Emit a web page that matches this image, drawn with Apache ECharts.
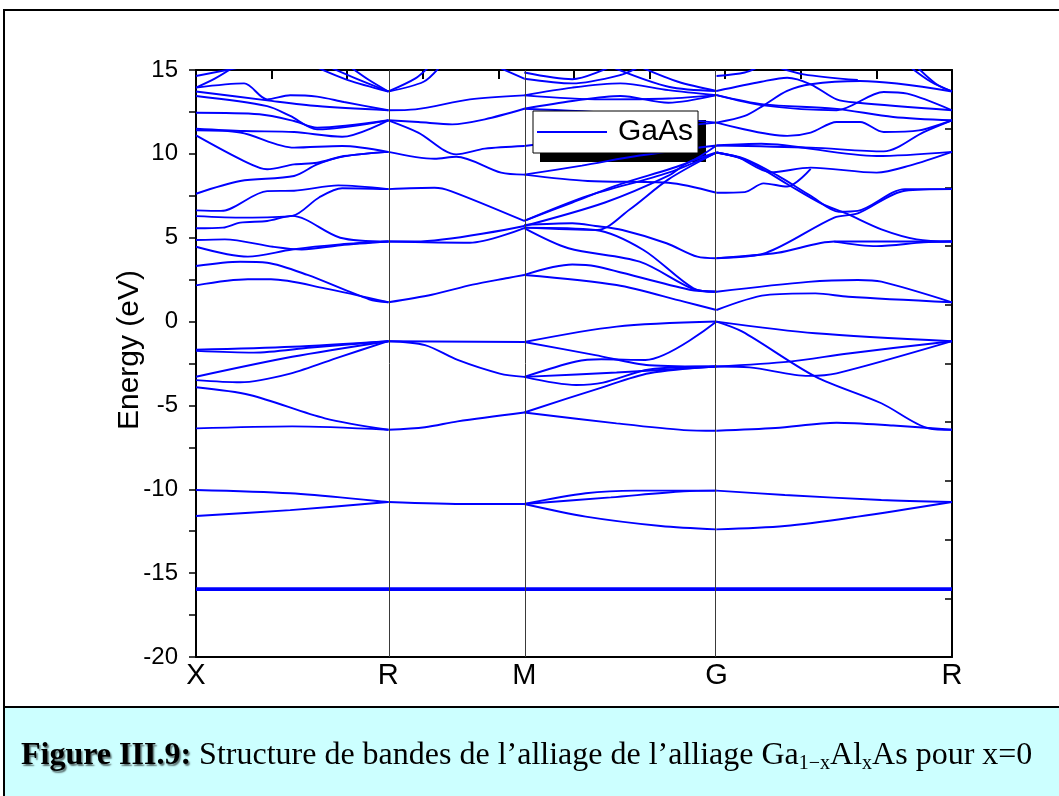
<!DOCTYPE html>
<html><head><meta charset="utf-8">
<script src="https://cdn.jsdelivr.net/npm/echarts@6/dist/echarts.min.js"></script>
<style>html,body{margin:0;padding:0;background:#fff}#c{width:1059px;height:796px}</style>
</head><body><div id="c"></div>
<script>
// high-symmetry points along the k-path (units of 2*pi/a)
const kPoints = [0, 0.7071, 1.2071, 1.9142, 2.7802];
const kLabels = ['X', 'R', 'M', 'G', 'R'];
const yRightTicks = [-16.5, -13, -9.5, -6, -2.5, 1, 4.5, 8, 11.5];
const coreLevel = -15.95;

// bands per path segment: [fraction along segment, energy eV]
const bandsXR = [
  [[0,14.64],[0.25,15.2]],
  [[0,13.95],[0.1,14.5],[0.2,15.2]],
  [[0,13.95],[0.25,14.2],[0.37,13.25],[0.49,13.49],[0.63,13.41],[0.77,13.09],[1,12.6]],
  [[0,13.72],[0.37,13.19],[0.63,12.85],[1,12.6]],
  [[0,13.45],[0.37,12.85],[0.49,12.26],[0.63,11.46],[1,12.0]],
  [[0,12.45],[0.33,12.36],[0.51,11.96],[0.63,11.56],[1,12.0]],
  [[0,11.5],[0.25,11.36],[0.51,11.3],[0.76,11.02],[1,12.0]],
  [[0,11.4],[0.23,11.27],[0.51,10.37],[0.76,10.47],[1,10.12]],
  [[0,11.1],[0.25,9.57],[0.37,9.08],[0.51,9.37],[0.63,9.47],[0.77,9.87],[1,10.12]],
  [[0,7.62],[0.23,8.38],[0.51,8.68],[0.63,9.37],[0.77,9.85],[1,10.12]],
  [[0,6.63],[0.13,6.6],[0.37,7.78],[0.51,7.8],[0.74,8.12],[1,7.9]],
  [[0,6.29],[0.25,6.2],[0.5,6.3],[0.64,7.4],[0.76,7.95],[1,7.9]],
  [[0,5.56],[0.14,5.6],[0.23,5.9],[0.37,6.0],[0.5,6.3],[0.75,5.0],[1,4.77]],
  [[0,4.86],[0.15,4.9],[0.4,4.46],[0.55,4.3],[0.75,4.55],[1,4.77]],
  [[0,4.46],[0.27,3.87],[0.5,4.3],[0.75,4.6],[1,4.77]],
  [[0,3.31],[0.23,3.57],[0.37,3.51],[0.58,2.78],[0.9,1.33],[1,1.15]],
  [[0,2.16],[0.27,2.52],[0.39,2.52],[0.67,1.98],[1,1.15]],
  [[0,-1.68],[0.5,-1.5],[1,-1.17]],
  [[0,-1.75],[0.3,-1.85],[0.6,-1.55],[1,-1.17]],
  [[0,-3.29],[0.5,-2.1],[1,-1.17]],
  [[0,-3.49],[0.23,-3.62],[0.49,-3.1],[0.75,-2.1],[1,-1.17]],
  [[0,-3.92],[0.28,-4.38],[0.67,-5.77],[1,-6.45]],
  [[0,-6.37],[0.5,-6.25],[1,-6.45]],
  [[0,-10.04],[0.49,-10.24],[1,-10.76]],
  [[0,-11.59],[0.49,-11.24],[1,-10.76]],
  [[0.62,15.2],[0.79,14.4],[1,13.72]],
  [[0.69,15.2],[0.83,14.5],[1,13.72]],
  [[0.8,15.2],[0.9,14.4],[1,13.72]]
];

const bandsRM = [
  [[0,13.72],[0.26,14.3],[0.38,15.2]],
  [[0,13.72],[0.2,14.5],[0.3,15.2]],
  [[0.8,15.2],[1,14.48]],
  [[0,12.6],[0.2,12.65],[0.6,13.25],[1,13.49]],
  [[0,12.0],[0.22,11.9],[0.47,11.76],[0.71,12.06],[1,12.69]],
  [[0,12.0],[0.22,11.27],[0.5,9.97],[0.71,10.31],[1,10.47]],
  [[0,10.12],[0.34,9.71],[0.5,9.83],[0.83,8.88],[1,8.76]],
  [[0,7.9],[0.34,7.98],[0.46,7.78],[1,6.0]],
  [[0,4.77],[0.2,4.77],[1,5.7]],
  [[0,4.77],[0.6,4.7],[1,5.57]],
  [[0,1.15],[0.32,1.6],[0.62,2.2],[0.88,2.6],[1,2.78]],
  [[0,-1.17],[1,-1.22]],
  [[0,-1.17],[0.27,-1.4],[0.51,-2.29],[0.82,-3.1],[1,-3.3]],
  [[0,-6.45],[0.27,-6.3],[0.51,-5.95],[1,-5.42]],
  [[0,-10.76],[0.6,-10.88],[1,-10.88]]
];

const bandsMG = [
  [[0,14.48],[0.25,14.2],[0.5,14.7],[0.6,15.2]],
  [[0,14.85],[0.25,14.45],[0.45,15.2]],
  [[0.45,15.2],[0.75,14.0],[1,13.75]],
  [[0.6,15.2],[0.8,14.3],[1,13.75]],
  [[0,13.49],[0.25,13.95],[0.5,14.2],[0.75,13.8],[1,13.5]],
  [[0,13.49],[0.4,13.25],[0.75,13.3],[1,13.5]],
  [[0,12.69],[0.25,13.15],[0.5,13.45],[0.75,13.05],[1,13.5]],
  [[0,12.69],[0.5,12.4],[1,11.86]],
  [[0,10.47],[0.3,10.9],[0.6,11.4],[1,11.86]],
  [[0,8.76],[0.3,9.3],[0.6,9.9],[1,10.5]],
  [[0,8.76],[0.33,8.38],[0.75,8.28],[1,7.68]],
  [[0,6.0],[0.33,7.49],[0.75,8.88],[1,10.08]],
  [[0,6.0],[0.25,7.1],[0.5,8.2],[0.85,9.47],[1,10.5]],
  [[0,5.7],[0.42,7.1],[0.75,8.7],[0.85,9.47],[1,10.08]],
  [[0,5.6],[0.38,5.46],[0.55,6.7],[0.75,8.48],[1,10.08]],
  [[0,5.76],[0.25,5.86],[0.37,5.7],[0.51,5.46],[0.74,4.67],[0.9,3.87],[1,3.78]],
  [[0,5.6],[0.37,5.46],[0.62,4.27],[0.88,1.98],[1,1.78]],
  [[0,5.57],[0.23,4.37],[0.6,3.57],[0.88,1.93],[1,1.78]],
  [[0,2.78],[0.25,3.4],[0.37,3.3],[0.86,1.9],[1,1.78]],
  [[0,2.78],[0.48,2.18],[0.83,1.19],[1,0.69]],
  [[0,-1.22],[0.48,-0.3],[1,0]],
  [[0,-1.22],[0.37,-2.0],[0.65,-2.6],[1,-2.68]],
  [[0,-3.3],[0.27,-2.38],[0.4,-2.25],[0.63,-2.29],[1,0]],
  [[0,-3.3],[0.27,-3.78],[0.41,-3.64],[0.65,-2.86],[1,-2.68]],
  [[0,-3.3],[0.48,-3.04],[1,-2.68]],
  [[0,-5.42],[0.39,-3.98],[0.65,-3.08],[1,-2.68]],
  [[0,-5.42],[0.48,-6.07],[0.83,-6.47],[1,-6.51]],
  [[0,-10.88],[0.32,-10.24],[0.58,-10.08],[1,-10.08]],
  [[0,-10.88],[0.45,-10.48],[0.83,-10.12],[1,-10.08]],
  [[0,-10.88],[0.32,-11.63],[0.71,-12.19],[1,-12.39]]
];

const bandsGR = [
  [[0,14.64],[0.12,14.85],[0.18,15.2]],
  [[0.25,15.2],[0.37,14.74],[0.6,14.4]],
  [[0,13.75],[0.19,14.3],[0.3,14.54],[0.4,14.15],[0.51,13.25],[0.6,13.05],[1,12.6]],
  [[0,11.86],[0.12,12.26],[0.2,12.89],[0.3,13.75],[0.4,14.15],[0.61,14.34],[1,13.72]],
  [[0,13.5],[0.2,12.95],[0.5,12.7],[0.75,12.2],[1,12.0]],
  [[0,13.5],[0.2,12.89],[0.51,12.6],[0.71,13.69],[0.81,13.59],[1,12.6]],
  [[0,11.86],[0.3,11.07],[0.4,11.27],[0.51,11.9],[0.61,11.9],[0.71,11.3],[0.86,11.4],[1,12.0]],
  [[0,10.5],[0.4,10.37],[0.71,10.15],[0.88,11.3],[1,12.0]],
  [[0,10.5],[0.19,10.6],[0.68,9.87],[1,10.12]],
  [[0,10.08],[0.09,9.8],[0.23,8.9],[0.4,9.18],[0.68,8.88],[0.82,9.3],[1,10.12]],
  [[0,10.08],[0.12,9.7],[0.26,8.7],[0.4,7.5],[0.52,6.55],[0.6,6.6],[0.8,7.9],[1,7.9]],
  [[0,10.08],[0.13,9.6],[0.3,8.2],[0.45,7.0],[0.55,6.45],[0.7,5.5],[0.85,4.9],[1,4.77]],
  [[0,7.68],[0.12,7.72],[0.2,8.24],[0.3,8.05],[0.4,9.1]],
  [[0,3.78],[0.26,4.1],[0.5,4.77],[1,4.77]],
  [[0,3.78],[0.21,4.1],[0.5,6.2],[0.6,6.45],[0.8,7.8],[1,7.9]],
  [[0.5,4.77],[0.68,4.5],[0.88,4.72],[1,4.77]],
  [[0,1.78],[0.39,2.37],[0.6,2.48],[0.7,2.38],[1,1.15]],
  [[0,0.69],[0.21,1.58],[0.42,1.68],[0.56,1.48],[1,1.15]],
  [[0,0],[0.42,-0.7],[1,-1.17]],
  [[0,0],[0.11,-0.6],[0.42,-3.28],[0.7,-4.87],[0.9,-6.36],[1,-6.45]],
  [[0,-2.68],[0.31,-2.39],[0.56,-1.9],[1,-1.17]],
  [[0,-2.68],[0.14,-2.73],[0.39,-3.24],[0.51,-3.09],[1,-1.17]],
  [[0,-6.51],[0.25,-6.35],[0.51,-6.03],[0.75,-6.2],[1,-6.45]],
  [[0,-10.08],[0.29,-10.34],[0.7,-10.64],[1,-10.76]],
  [[0,-12.39],[0.29,-12.19],[0.6,-11.63],[1,-10.76]],
  [[0.82,15.2],[0.91,14.3],[1,13.72]],
  [[0.85,15.2],[0.93,14.2],[1,13.72]]
];

const kEnd = kPoints[kPoints.length - 1];
const topTicks = [1,2,3,4,5,6,7,8,9].map(i => kEnd * i / 10);
const segments = [
  [bandsXR, kPoints[0], kPoints[1]],
  [bandsRM, kPoints[1], kPoints[2]],
  [bandsMG, kPoints[2], kPoints[3]],
  [bandsGR, kPoints[3], kPoints[4]]
];

const BLUE = '#0000ff';
const SANS = '"Liberation Sans", Arial, sans-serif';
const SERIF = '"Liberation Serif", "Times New Roman", serif';

const series = [];
segments.forEach(([bands, k0, k1]) => {
  bands.forEach(b => {
    series.push({
      name: 'GaAs', type: 'line', symbol: 'none', showSymbol: false,
      smooth: 0.3, silent: true, clip: true,
      lineStyle: { color: BLUE, width: 1.9 }, itemStyle: { color: BLUE },
      data: b.map(([f, e]) => [k0 + f * (k1 - k0), e])
    });
  });
});
series.push({
  name: 'GaAs', type: 'line', symbol: 'none', silent: true,
  lineStyle: { color: BLUE, width: 3.6 }, itemStyle: { color: BLUE },
  data: [[kPoints[0], coreLevel], [kEnd, coreLevel]],
  markLine: {
    silent: true, symbol: ['none', 'none'], label: { show: false },
    lineStyle: { color: '#3a3a3a', width: 1, type: 'solid' },
    data: kPoints.slice(1, 4).map(k => ({ xAxis: k }))
  }
});

const chart = echarts.init(document.getElementById('c'), null, { renderer: 'canvas' });
chart.setOption({
  animation: false,
  backgroundColor: '#ffffff',
  grid: { left: 196, right: 107, top: 70, bottom: 139, show: false },
  legend: {
    data: [{ name: 'GaAs', icon: 'rect' }], left: 533, top: 111, orient: 'horizontal',
    padding: [6, 5, 6, 4], itemWidth: 70, itemHeight: 1.8,
    backgroundColor: '#ffffff', borderColor: '#000', borderWidth: 1, borderRadius: 0,
    itemStyle: { color: BLUE, borderWidth: 0 },
    textStyle: { fontSize: 30, fontFamily: SANS, color: '#000', padding: [0, 0, 0, 6] },
    selectedMode: false
  },
  xAxis: [
    {
      type: 'value', min: 0, max: kEnd, position: 'bottom',
      axisLine: { show: true, onZero: false, lineStyle: { color: '#000', width: 2 } },
      axisTick: { show: false }, splitLine: { show: false },
      axisLabel: {
        customValues: kPoints, showMinLabel: true, showMaxLabel: true,
        formatter: v => {
          let best = 0;
          kPoints.forEach((k, i) => { if (Math.abs(k - v) < Math.abs(kPoints[best] - v)) best = i; });
          return kLabels[best];
        },
        fontSize: 29, fontFamily: SANS, color: '#000', margin: 4
      }
    },
    {
      type: 'value', min: 0, max: kEnd, position: 'top',
      axisLine: { show: true, onZero: false, lineStyle: { color: '#000', width: 2 } },
      axisTick: { show: true, inside: true, length: 9, customValues: topTicks, lineStyle: { color: '#000', width: 2 } },
      axisLabel: { show: false }, splitLine: { show: false }
    }
  ],
  yAxis: [
    {
      type: 'value', min: -20, max: 15, interval: 5, position: 'left',
      axisLine: { show: true, onZero: false, lineStyle: { color: '#000', width: 2 } },
      axisTick: { show: true, inside: false, length: 7, lineStyle: { color: '#000', width: 1.5 } },
      minorTick: { show: true, splitNumber: 2, length: 7, lineStyle: { color: '#000', width: 1.5 } },
      axisLabel: { fontSize: 24, fontFamily: SANS, color: '#000', margin: 18 },
      splitLine: { show: false }
    },
    {
      type: 'value', min: -20, max: 15, position: 'right',
      axisLine: { show: true, onZero: false, lineStyle: { color: '#000', width: 2 } },
      axisTick: { show: true, inside: true, length: 7, customValues: yRightTicks, lineStyle: { color: '#000', width: 1.5 } },
      axisLabel: { show: false }, splitLine: { show: false }
    }
  ],
  graphic: [
    { type: 'rect', z: 0, silent: true, shape: { x: 4, y: 10, width: 1200, height: 1000 },
      style: { fill: 'none', stroke: '#000', lineWidth: 2 } },
    { type: 'rect', z: 0, silent: true, shape: { x: 4, y: 707, width: 1200, height: 200 },
      style: { fill: '#ccffff', stroke: '#000', lineWidth: 2 } },
    { type: 'rect', z: 3, silent: true, shape: { x: 540, y: 120, width: 166, height: 42 },
      style: { fill: '#000' } },
    { type: 'text', z: 5, silent: true, x: 130, y: 350, rotation: Math.PI / 2,
      style: { text: 'Energy (eV)', fontSize: 30, fontFamily: SANS, fill: '#000', align: 'center', verticalAlign: 'middle' } },
    { type: 'text', z: 5, silent: true, x: 21, y: 756,
      style: {
        text: '{b|Figure III.9:}{n| Structure de bandes de l’alliage de l’alliage Ga}{s|1−x}{n|Al}{s|x}{n|As pour x=0}',
        verticalAlign: 'middle', align: 'left',
        rich: {
          b: { fontFamily: SERIF, fontWeight: 'bold', fontSize: 32, lineHeight: 36, fill: '#000',
               textShadowColor: 'rgba(0,0,0,0.55)', textShadowOffsetX: 1.5, textShadowOffsetY: 1.5, textShadowBlur: 1.5 },
          n: { fontFamily: SERIF, fontSize: 32, lineHeight: 36, fill: '#000' },
          s: { fontFamily: SERIF, fontSize: 20, lineHeight: 20, verticalAlign: 'bottom', fill: '#000' }
        }
      } }
  ],
  series: series
});
</script></body></html>
